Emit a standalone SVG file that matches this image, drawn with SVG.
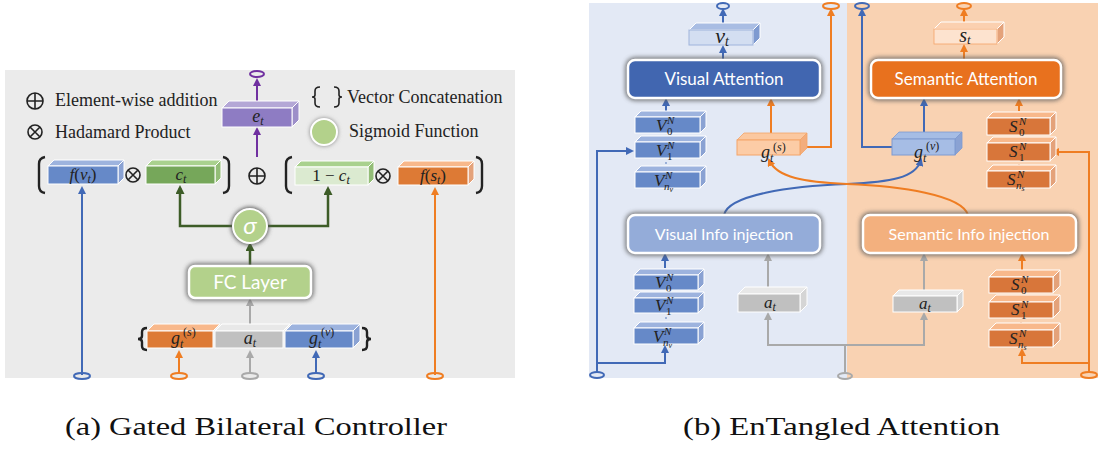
<svg xmlns="http://www.w3.org/2000/svg" width="1101" height="450" viewBox="0 0 1101 450">
<style>
.leg{font-family:"Liberation Serif","Times New Roman",serif;font-size:18px;fill:#222}
.cap{font-family:"Liberation Serif","Times New Roman",serif;font-size:25px;fill:#111}
.m{font-family:"Liberation Serif","Times New Roman",serif;font-style:italic;fill:#222;text-anchor:middle}
.ms{font-family:"Liberation Serif","Times New Roman",serif;font-style:italic;fill:#222}
.mu{font-family:"Liberation Serif","Times New Roman",serif;fill:#222}
.bt{font-family:Lato,"Open Sans",sans-serif;fill:#fff;text-anchor:middle}
.bx{stroke:#fff;stroke-width:1}
.ln{fill:none;stroke-width:2}
.b{stroke:#4169b6}.o{stroke:#ef7d22}.g{stroke:#a9a9a9}.p{stroke:#7030a0}.dg{stroke:#3d5c27;stroke-width:2.5}
.sym{fill:none;stroke:#222;stroke-width:1.6}
.br{fill:none;stroke:#222;stroke-width:2.4}
.shd{fill:none;stroke:#5a5a5a;stroke-width:6;opacity:.75}
</style>
<defs>
<filter id="blur" x="-20%" y="-40%" width="140%" height="180%"><feGaussianBlur stdDeviation="2.2"/></filter>
<marker id="ab" markerWidth="8" markerHeight="8" refX="6" refY="4" orient="auto" markerUnits="userSpaceOnUse"><path d="M0,0 L8,4 L0,8 z" fill="#4169b6"/></marker>
<marker id="ao" markerWidth="8" markerHeight="8" refX="6" refY="4" orient="auto" markerUnits="userSpaceOnUse"><path d="M0,0 L8,4 L0,8 z" fill="#ef7d22"/></marker>
<marker id="ag" markerWidth="8" markerHeight="8" refX="6" refY="4" orient="auto" markerUnits="userSpaceOnUse"><path d="M0,0 L8,4 L0,8 z" fill="#a9a9a9"/></marker>
<marker id="ap" markerWidth="8" markerHeight="8" refX="6" refY="4" orient="auto" markerUnits="userSpaceOnUse"><path d="M0,0 L8,4 L0,8 z" fill="#7030a0"/></marker>
<marker id="adg" markerWidth="9" markerHeight="9" refX="6" refY="4.5" orient="auto" markerUnits="userSpaceOnUse"><path d="M0,0 L9,4.5 L0,9 z" fill="#3d5c27"/></marker>
</defs>

<!-- ================= (a) Gated Bilateral Controller ================= -->
<rect x="5" y="70" width="510" height="308" fill="#ebebeb"/>

<g id="legend">
<circle cx="35" cy="101" r="8" class="sym"/><path d="M27,101 H43 M35,93 V109" class="sym"/>
<text x="55" y="106" class="leg">Element-wise addition</text>
<circle cx="35" cy="132" r="7" class="sym"/><path d="M30,127 L40,137 M40,127 L30,137" class="sym"/>
<text x="55" y="138" class="leg">Hadamard Product</text>
<path d="M320,87 Q315,87 315,91 L315,95 Q315,97 312,97 Q315,97 315,99 L315,103 Q315,107 320,107" class="sym"/>
<path d="M334,87 Q339,87 339,91 L339,95 Q339,97 342,97 Q339,97 339,99 L339,103 Q339,107 334,107" class="sym"/>
<text x="347" y="103" class="leg">Vector Concatenation</text>
<circle cx="324" cy="132" r="14" fill="#888" filter="url(#blur)"/>
<circle cx="324" cy="132" r="13" fill="#b3d18b" stroke="#fff" stroke-width="2"/>
<text x="349" y="137" class="leg">Sigmoid Function</text>
</g>

<g id="connectors-a">
<path d="M257,157 V129" class="ln p" marker-end="url(#ap)"/>
<path d="M257,108 V80" class="ln p" marker-end="url(#ap)"/>
<ellipse cx="257" cy="74" rx="7" ry="3" fill="none" stroke="#7030a0" stroke-width="2"/>
<path d="M82,375 V188" class="ln b" marker-end="url(#ab)"/>
<ellipse cx="82" cy="376" rx="8" ry="3" fill="none" stroke="#4169b6" stroke-width="2"/>
<path d="M435,375 V189" class="ln o" marker-end="url(#ao)"/>
<ellipse cx="435" cy="376" rx="8" ry="3" fill="none" stroke="#ef7d22" stroke-width="2"/>
<path d="M233,226 H180 V188" class="ln dg" marker-end="url(#adg)"/>
<path d="M267,226 H328 V189" class="ln dg" marker-end="url(#adg)"/>
<path d="M250,266 V245" class="ln dg" marker-end="url(#adg)"/>
<path d="M250,324 V300" class="ln g" stroke-width="2.5" marker-end="url(#ag)"/>
<path d="M179,374 V352" class="ln o" marker-end="url(#ao)"/>
<ellipse cx="179" cy="376" rx="8" ry="3" fill="none" stroke="#ef7d22" stroke-width="2"/>
<path d="M250,374 V352" class="ln g" marker-end="url(#ag)"/>
<ellipse cx="250" cy="376" rx="8" ry="3" fill="none" stroke="#a9a9a9" stroke-width="2"/>
<path d="M316,374 V352" class="ln b" marker-end="url(#ab)"/>
<ellipse cx="316" cy="376" rx="8" ry="3" fill="none" stroke="#4169b6" stroke-width="2"/>
</g>

<g id="e_t">
<path d="M222,108 L229,101 L299,101 L292,108 Z" fill="#b4a7d6" class="bx"/>
<path d="M292,108 L299,101 L299,120 L292,127 Z" fill="#9d8fc9" class="bx"/>
<rect x="222" y="108" width="70" height="19" fill="#8e7cc3" class="bx"/>
<text x="258" y="122" class="m" font-size="18">e<tspan font-size="12" dy="3">t</tspan></text>
</g>

<g id="row-ops">
<path d="M45,157 Q39,158 39,164 L39,186 Q39,192 45,193" class="br"/>
<path d="M223,157 Q229,158 229,164 L229,186 Q229,192 223,193" class="br"/>
<path d="M292,157 Q286,158 286,164 L286,186 Q286,192 292,193" class="br"/>
<path d="M476,157 Q482,158 482,164 L482,186 Q482,192 476,193" class="br"/>
<circle cx="133" cy="175" r="7" class="sym"/><path d="M128,170 L138,180 M138,170 L128,180" class="sym"/>
<circle cx="383" cy="176" r="7" class="sym"/><path d="M378,171 L388,181 M388,171 L378,181" class="sym"/>
<circle cx="257" cy="176" r="8" class="sym"/><path d="M249,176 H265 M257,168 V184" class="sym"/>
</g>

<g id="f_vt">
<path d="M48,166 L54,160 L124,160 L118,166 Z" fill="#9db3de" class="bx"/>
<path d="M118,166 L124,160 L124,178 L118,184 Z" fill="#8aa2d3" class="bx"/>
<rect x="48" y="166" width="70" height="18" fill="#6689c8" class="bx"/>
<text x="83" y="180" class="m" font-size="17">f<tspan font-style="normal">(</tspan>v<tspan font-size="12" dy="3">t</tspan><tspan font-style="normal" dy="-3">)</tspan></text>
</g>

<g id="c_t">
<path d="M146,166 L152,160 L221,160 L215,166 Z" fill="#a9d18e" class="bx"/>
<path d="M215,166 L221,160 L221,178 L215,184 Z" fill="#93bd77" class="bx"/>
<rect x="146" y="166" width="69" height="18" fill="#76a75a" class="bx"/>
<text x="181" y="180" class="m" font-size="17">c<tspan font-size="12" dy="3">t</tspan></text>
</g>

<g id="one_minus_ct">
<path d="M295,167 L301,161 L374,161 L368,167 Z" fill="#a9d18e" class="bx"/>
<path d="M368,167 L374,161 L374,179 L368,185 Z" fill="#93bd77" class="bx"/>
<rect x="295" y="167" width="73" height="18" fill="#dbead0" class="bx"/>
<text x="331" y="181" class="m" font-size="17"><tspan font-style="normal">1 − </tspan>c<tspan font-size="12" dy="3">t</tspan></text>
</g>

<g id="f_st">
<path d="M398,167 L404,161 L474,161 L468,167 Z" fill="#f8b88b" class="bx"/>
<path d="M468,167 L474,161 L474,179 L468,185 Z" fill="#e4a27a" class="bx"/>
<rect x="398" y="167" width="70" height="18" fill="#dd7a35" class="bx"/>
<text x="433" y="181" class="m" font-size="17">f<tspan font-style="normal">(</tspan>s<tspan font-size="12" dy="3">t</tspan><tspan font-style="normal" dy="-3">)</tspan></text>
</g>

<g id="sigma">
<circle cx="250" cy="226" r="19" fill="#5a5a5a" filter="url(#blur)"/>
<circle cx="250" cy="226" r="17" fill="#b3d18b" stroke="#fff" stroke-width="2"/>
<text x="250" y="234" class="bt" font-family="Liberation Serif,serif" font-style="italic" font-size="24">σ</text>
</g>

<g id="fc_layer">
<rect x="189" y="266" width="122" height="32" rx="6" class="shd" filter="url(#blur)"/>
<rect x="189" y="266" width="122" height="32" rx="6" fill="#b3d18b" stroke="#fff" stroke-width="2.5"/>
<text x="250" y="289" class="bt" font-size="19">FC Layer</text>
</g>

<g id="concat">
<path d="M147,350 Q142,350 142,346 L142,342 Q142,339 138,339 Q142,339 142,336 L142,332 Q142,328 147,328" class="br" stroke-width="1.8"/>
<path d="M362,350 Q367,350 367,346 L367,342 Q367,339 371,339 Q367,339 367,336 L367,332 Q367,328 362,328" class="br" stroke-width="1.8"/>
<path d="M147,331 L154,324 L220,324 L213,331 Z" fill="#f8b88b" class="bx"/>
<rect x="147" y="331" width="66" height="17" fill="#dd7a35" class="bx"/>
<path d="M215,331 L222,324 L290,324 L283,331 Z" fill="#e8e8e8" class="bx"/>
<rect x="215" y="331" width="68" height="17" fill="#c0c0c0" class="bx"/>
<path d="M285,331 L292,324 L360,324 L353,331 Z" fill="#9db3de" class="bx"/>
<path d="M353,331 L360,324 L360,341 L353,348 Z" fill="#8aa2d3" class="bx"/>
<rect x="285" y="331" width="68" height="17" fill="#6689c8" class="bx"/>
<text x="171" y="344" class="ms" font-size="18">g</text><text x="180" y="348" class="ms" font-size="12">t</text><text x="183" y="336" class="mu" font-size="12">(<tspan font-style="italic">s</tspan>)</text>
<text x="250" y="344" class="m" font-size="18">a<tspan font-size="12" dy="3">t</tspan></text>
<text x="309" y="344" class="ms" font-size="18">g</text><text x="318" y="348" class="ms" font-size="12">t</text><text x="321" y="336" class="mu" font-size="12">(<tspan font-style="italic">v</tspan>)</text>
</g>

<text x="65" y="435" class="cap" textLength="382" lengthAdjust="spacingAndGlyphs">(a) Gated Bilateral Controller</text>

<!-- ================= (b) EnTangled Attention ================= -->
<rect x="589" y="3" width="258" height="375" fill="#e3e9f5"/>
<rect x="847" y="3" width="251" height="375" fill="#f9d2b2"/>

<g id="connectors-b">
<path d="M723,60 V47" class="ln b" marker-end="url(#ab)"/>
<path d="M723,23 V10" class="ln b" marker-end="url(#ab)"/>
<ellipse cx="723" cy="6" rx="6" ry="3" fill="none" stroke="#4169b6" stroke-width="2"/>
<path d="M666,112 V100" class="ln b" marker-end="url(#ab)"/>
<path d="M771,133 V100" class="ln o" marker-end="url(#ao)"/>
<path d="M800,147 H831 V10" class="ln o" marker-end="url(#ao)"/>
<ellipse cx="831" cy="6" rx="8" ry="3" fill="none" stroke="#ef7d22" stroke-width="2"/>
<path d="M597,372 V151 H632" class="ln b" marker-end="url(#ab)"/>
<path d="M597,363 H665 V347" class="ln b" marker-end="url(#ab)"/>
<ellipse cx="597" cy="375" rx="7" ry="3" fill="none" stroke="#4169b6" stroke-width="2"/>
<path d="M892,147 H862 V10" class="ln b" marker-end="url(#ab)"/>
<ellipse cx="862" cy="6" rx="7" ry="3" fill="none" stroke="#4169b6" stroke-width="2"/>
<path d="M924,132 V100" class="ln b" marker-end="url(#ab)"/>
<path d="M964,60 V46" class="ln o" marker-end="url(#ao)"/>
<path d="M964,23 V10" class="ln o" marker-end="url(#ao)"/>
<ellipse cx="964" cy="6" rx="7" ry="3" fill="none" stroke="#ef7d22" stroke-width="2"/>
<path d="M1019,111 V100" class="ln o" marker-end="url(#ao)"/>
<path d="M1089,372 V152 H1053" class="ln o" marker-end="url(#ao)"/>
<path d="M1089,363 H1022 V350" class="ln o" marker-end="url(#ao)"/>
<ellipse cx="1089" cy="375" rx="8" ry="3" fill="none" stroke="#ef7d22" stroke-width="2"/>
<path d="M665,268 V255" class="ln b" marker-end="url(#ab)"/>
<path d="M768,288 V255" class="ln g" marker-end="url(#ag)"/>
<path d="M845,373 V345 H768 V314" class="ln g" marker-end="url(#ag)"/>
<path d="M845,345 H924 V314" class="ln g" marker-end="url(#ag)"/>
<ellipse cx="845" cy="376" rx="7" ry="3" fill="none" stroke="#a9a9a9" stroke-width="2"/>
<path d="M924,290 V255" class="ln g" marker-end="url(#ag)"/>
<path d="M1022,270 V255" class="ln o" marker-end="url(#ao)"/>
<path d="M724,215 C728,195 790,186 847,184 C890,182 916,178 921,160" class="ln b" stroke-width="1.6" marker-end="url(#ab)"/>
<path d="M968,215 C962,195 900,186 847,184 C805,182 777,178 769,160" class="ln o" stroke-width="1.6" marker-end="url(#ao)"/>
</g>

<g id="v_t">
<path d="M689,30 L696,23 L760,23 L753,30 Z" fill="#a9bde3" class="bx"/>
<path d="M753,30 L760,23 L760,38 L753,45 Z" fill="#7e9ad0" class="bx"/>
<rect x="689" y="30" width="64" height="15" fill="#d3def1" stroke="#9fb4dc"/>
<text x="722" y="43" class="m" font-size="22">v<tspan font-size="14" dy="3">t</tspan></text>
</g>

<g id="visual_attention">
<rect x="628" y="60" width="192" height="38" rx="7" class="shd" filter="url(#blur)"/>
<rect x="628" y="60" width="192" height="38" rx="7" fill="#4166b0" stroke="#fff" stroke-width="2.5"/>
<text x="724" y="85" class="bt" font-size="17">Visual Attention</text>
</g>

<g id="V_top">
<path d="M635,117 L641,111 L706,111 L700,117 Z" fill="#9db3de" class="bx"/>
<path d="M700,117 L706,111 L706,127 L700,133 Z" fill="#8aa2d3" class="bx"/>
<rect x="635" y="117" width="65" height="16" fill="#6689c8" class="bx"/>
<text x="656" y="131" class="ms" font-size="17">V</text><text x="667" y="124" class="ms" font-size="11">N</text><text x="667" y="135" class="mu" font-size="11">0</text>
<path d="M635,142 L641,136 L706,136 L700,142 Z" fill="#9db3de" class="bx"/>
<path d="M700,142 L706,136 L706,152 L700,158 Z" fill="#8aa2d3" class="bx"/>
<rect x="635" y="142" width="65" height="16" fill="#6689c8" class="bx"/>
<text x="656" y="156" class="ms" font-size="17">V</text><text x="667" y="149" class="ms" font-size="11">N</text><text x="667" y="160" class="mu" font-size="11">1</text>
<circle cx="666" cy="163" r="0.8" fill="#4169b6"/>
<path d="M635,172 L641,166 L706,166 L700,172 Z" fill="#9db3de" class="bx"/>
<path d="M700,172 L706,166 L706,182 L700,188 Z" fill="#8aa2d3" class="bx"/>
<rect x="635" y="172" width="65" height="16" fill="#6689c8" class="bx"/>
<text x="654" y="186" class="ms" font-size="17">V</text><text x="665" y="179" class="ms" font-size="11">N</text><text x="664" y="190" class="ms" font-size="11">n<tspan font-size="8" dy="2">v</tspan></text>
</g>

<g id="g_s">
<path d="M737,140 L744,133 L807,133 L800,140 Z" fill="#fbc8a0" stroke="#f4a468" stroke-width="0.8"/>
<path d="M800,140 L807,133 L807,148 L800,155 Z" fill="#f3ad7c" stroke="#f4a468" stroke-width="0.8"/>
<rect x="737" y="140" width="63" height="15" fill="#fccca6" stroke="#f4a468"/>
<text x="761" y="158" class="ms" font-size="18">g</text><text x="770" y="162" class="ms" font-size="12">t</text><text x="773" y="151" class="mu" font-size="12">(<tspan font-style="italic">s</tspan>)</text>
</g>

<g id="g_v">
<path d="M892,139 L899,132 L962,132 L955,139 Z" fill="#a6bde5" stroke="#7f9ad0" stroke-width="0.8"/>
<path d="M955,139 L962,132 L962,148 L955,155 Z" fill="#8aa2d3" stroke="#7f9ad0" stroke-width="0.8"/>
<rect x="892" y="139" width="63" height="16" fill="#a6bde5" stroke="#7f9ad0"/>
<text x="914" y="158" class="ms" font-size="18">g</text><text x="923" y="162" class="ms" font-size="12">t</text><text x="926" y="150" class="mu" font-size="12">(<tspan font-style="italic">v</tspan>)</text>
</g>

<g id="s_t">
<path d="M934,29 L941,22 L1004,22 L997,29 Z" fill="#fbd0b0" class="bx"/>
<path d="M997,29 L1004,22 L1004,37 L997,44 Z" fill="#e4a27a" class="bx"/>
<rect x="934" y="29" width="63" height="15" fill="#fde3cf" stroke="#f4a468" stroke-width="0.8"/>
<text x="965" y="42" class="m" font-size="20">s<tspan font-size="13" dy="2">t</tspan></text>
</g>

<g id="semantic_attention">
<rect x="871" y="60" width="190" height="38" rx="7" class="shd" filter="url(#blur)"/>
<rect x="871" y="60" width="190" height="38" rx="7" fill="#e8711e" stroke="#fff" stroke-width="2.5"/>
<text x="966" y="85" class="bt" font-size="17">Semantic Attention</text>
</g>

<g id="S_top">
<path d="M987,118 L993,112 L1056,112 L1050,118 Z" fill="#f8b88b" class="bx"/>
<path d="M1050,118 L1056,112 L1056,129 L1050,135 Z" fill="#e4a27a" class="bx"/>
<rect x="987" y="118" width="63" height="17" fill="#d8763a" class="bx"/>
<text x="1009" y="132" class="ms" font-size="17">S</text><text x="1019" y="125" class="ms" font-size="11">N</text><text x="1019" y="136" class="mu" font-size="11">0</text>
<path d="M987,143 L993,137 L1056,137 L1050,143 Z" fill="#f8b88b" class="bx"/>
<path d="M1050,143 L1056,137 L1056,155 L1050,161 Z" fill="#e4a27a" class="bx"/>
<rect x="987" y="143" width="63" height="18" fill="#d8763a" class="bx"/>
<text x="1009" y="157" class="ms" font-size="17">S</text><text x="1019" y="150" class="ms" font-size="11">N</text><text x="1019" y="161" class="mu" font-size="11">1</text>
<circle cx="1019" cy="165" r="0.8" fill="#d8763a"/>
<path d="M987,171 L993,165 L1056,165 L1050,171 Z" fill="#f8b88b" class="bx"/>
<path d="M1050,171 L1056,165 L1056,182 L1050,188 Z" fill="#e4a27a" class="bx"/>
<rect x="987" y="171" width="63" height="17" fill="#d8763a" class="bx"/>
<text x="1007" y="185" class="ms" font-size="17">S</text><text x="1017" y="178" class="ms" font-size="11">N</text><text x="1016" y="189" class="ms" font-size="11">n<tspan font-size="8" dy="2">s</tspan></text>
</g>

<g id="visual_info_injection">
<rect x="628" y="215" width="192" height="38" rx="7" class="shd" filter="url(#blur)"/>
<rect x="628" y="215" width="192" height="38" rx="7" fill="#94acd9" stroke="#fff" stroke-width="2.5"/>
<text x="724" y="240" class="bt" font-size="16">Visual Info injection</text>
</g>

<g id="semantic_info_injection">
<rect x="863" y="215" width="213" height="38" rx="7" class="shd" filter="url(#blur)" opacity="0.55"/>
<rect x="863" y="215" width="213" height="38" rx="7" fill="#f3b07e" stroke="#fff" stroke-width="2.5"/>
<text x="969" y="240" class="bt" font-size="16">Semantic Info injection</text>
</g>

<g id="V_bottom">
<path d="M634,275 L640,269 L704,269 L698,275 Z" fill="#9db3de" class="bx"/>
<path d="M698,275 L704,269 L704,284 L698,290 Z" fill="#8aa2d3" class="bx"/>
<rect x="634" y="275" width="64" height="15" fill="#6689c8" class="bx"/>
<text x="655" y="288" class="ms" font-size="17">V</text><text x="666" y="281" class="ms" font-size="11">N</text><text x="666" y="292" class="mu" font-size="11">0</text>
<path d="M634,298 L640,292 L704,292 L698,298 Z" fill="#9db3de" class="bx"/>
<path d="M698,298 L704,292 L704,307 L698,313 Z" fill="#8aa2d3" class="bx"/>
<rect x="634" y="298" width="64" height="15" fill="#6689c8" class="bx"/>
<text x="655" y="311" class="ms" font-size="17">V</text><text x="666" y="304" class="ms" font-size="11">N</text><text x="666" y="315" class="mu" font-size="11">1</text>
<circle cx="666" cy="318" r="0.8" fill="#4169b6"/>
<path d="M634,328 L640,322 L704,322 L698,328 Z" fill="#9db3de" class="bx"/>
<path d="M698,328 L704,322 L704,338 L698,344 Z" fill="#8aa2d3" class="bx"/>
<rect x="634" y="328" width="64" height="16" fill="#6689c8" class="bx"/>
<text x="653" y="342" class="ms" font-size="17">V</text><text x="664" y="335" class="ms" font-size="11">N</text><text x="663" y="346" class="ms" font-size="11">n<tspan font-size="8" dy="2">v</tspan></text>
</g>

<g id="a_t_left">
<path d="M738,294 L745,287 L807,287 L800,294 Z" fill="#e8e8e8" class="bx"/>
<path d="M800,294 L807,287 L807,305 L800,312 Z" fill="#d5d5d5" class="bx"/>
<rect x="738" y="294" width="62" height="18" fill="#c0c0c0" class="bx"/>
<text x="770" y="308" class="m" font-size="17">a<tspan font-size="12" dy="3">t</tspan></text>
</g>

<g id="a_t_right">
<path d="M893,296 L899,290 L963,290 L957,296 Z" fill="#e8e8e8" class="bx"/>
<path d="M957,296 L963,290 L963,306 L957,312 Z" fill="#d5d5d5" class="bx"/>
<rect x="893" y="296" width="64" height="16" fill="#c0c0c0" class="bx"/>
<text x="925" y="309" class="m" font-size="17">a<tspan font-size="12" dy="3">t</tspan></text>
</g>

<g id="S_bottom">
<path d="M989,277 L996,270 L1060,270 L1053,277 Z" fill="#f8b88b" class="bx"/>
<path d="M1053,277 L1060,270 L1060,286 L1053,293 Z" fill="#e4a27a" class="bx"/>
<rect x="989" y="277" width="64" height="16" fill="#d8763a" class="bx"/>
<text x="1011" y="290" class="ms" font-size="17">S</text><text x="1021" y="283" class="ms" font-size="11">N</text><text x="1021" y="294" class="mu" font-size="11">0</text>
<path d="M989,302 L996,295 L1060,295 L1053,302 Z" fill="#f8b88b" class="bx"/>
<path d="M1053,302 L1060,295 L1060,311 L1053,318 Z" fill="#e4a27a" class="bx"/>
<rect x="989" y="302" width="64" height="16" fill="#d8763a" class="bx"/>
<text x="1011" y="315" class="ms" font-size="17">S</text><text x="1021" y="308" class="ms" font-size="11">N</text><text x="1021" y="319" class="mu" font-size="11">1</text>
<circle cx="1021" cy="323" r="0.8" fill="#d8763a"/>
<path d="M989,330 L996,323 L1060,323 L1053,330 Z" fill="#f8b88b" class="bx"/>
<path d="M1053,330 L1060,323 L1060,340 L1053,347 Z" fill="#e4a27a" class="bx"/>
<rect x="989" y="330" width="64" height="17" fill="#d8763a" class="bx"/>
<text x="1009" y="344" class="ms" font-size="17">S</text><text x="1019" y="337" class="ms" font-size="11">N</text><text x="1018" y="348" class="ms" font-size="11">n<tspan font-size="8" dy="2">s</tspan></text>
</g>

<text x="683" y="435" class="cap" textLength="317" lengthAdjust="spacingAndGlyphs">(b) EnTangled Attention</text>
</svg>
